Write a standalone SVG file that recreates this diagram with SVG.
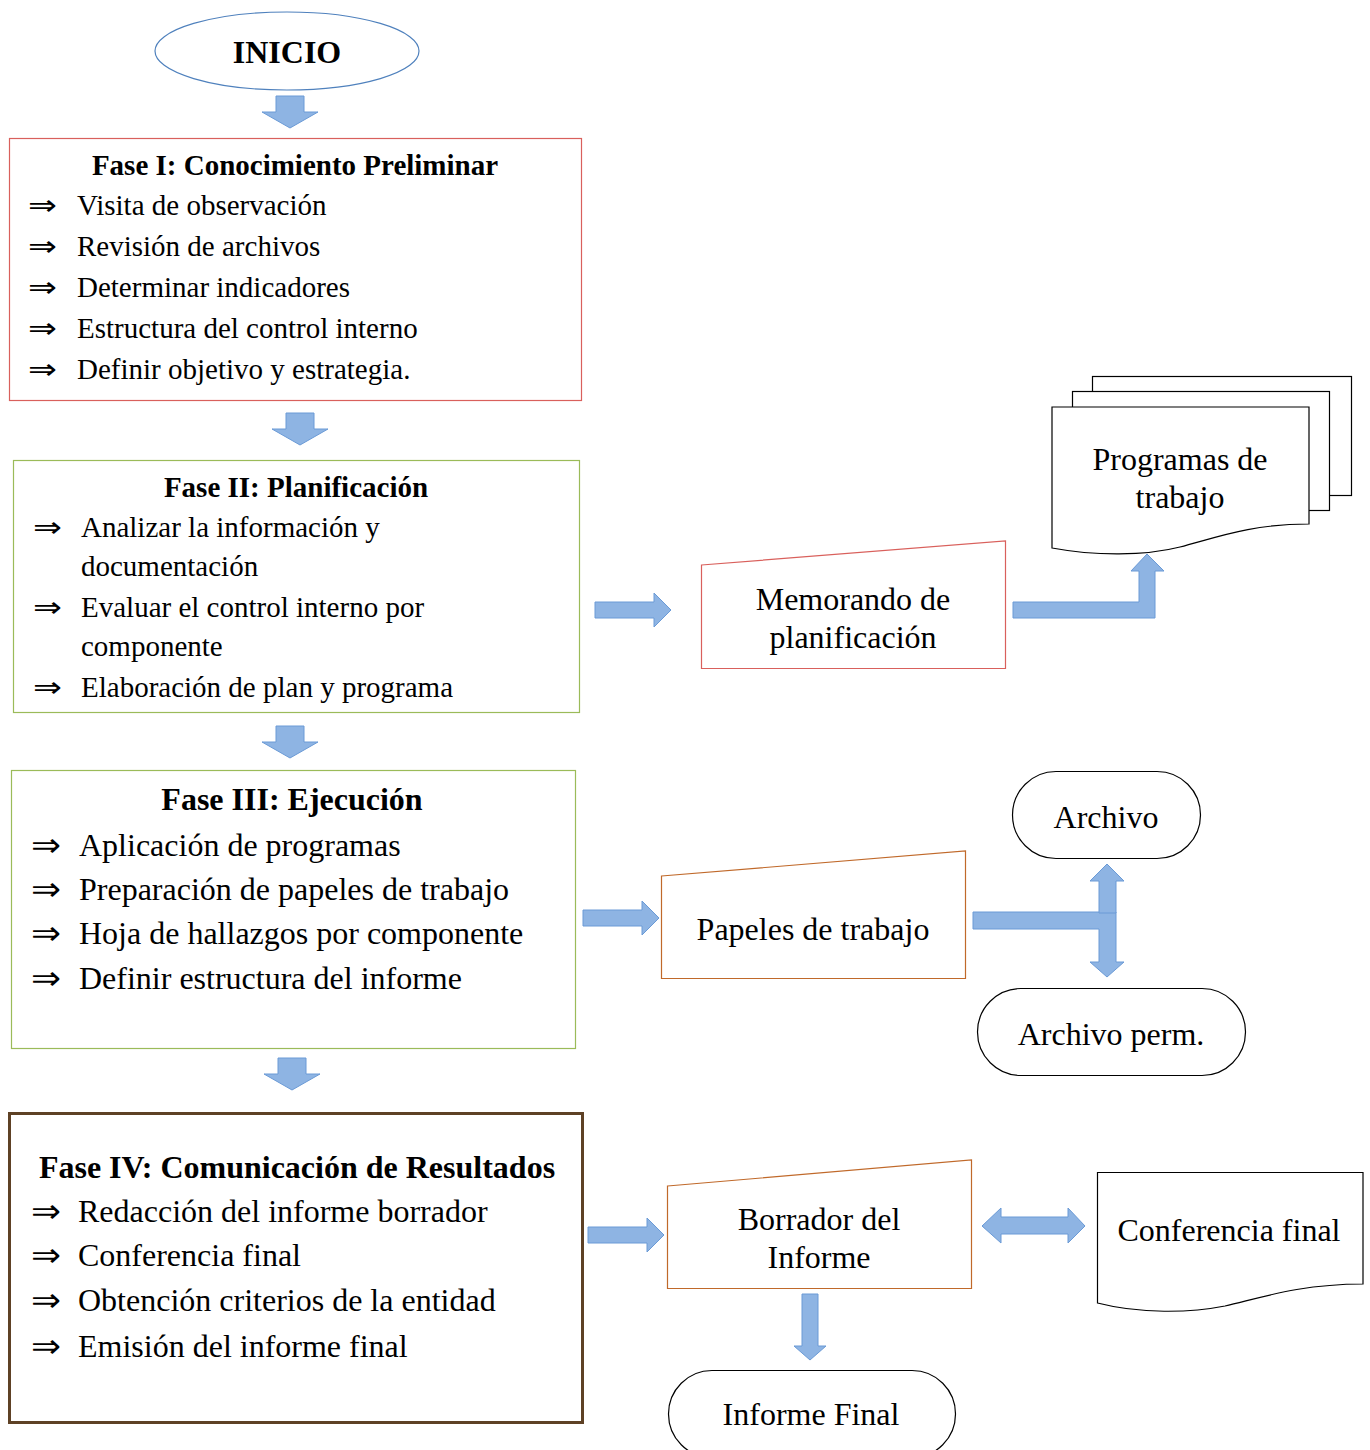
<svg xmlns="http://www.w3.org/2000/svg" width="1370" height="1450" viewBox="0 0 1370 1450">
<style>
text{font-family:"Liberation Serif","DejaVu Serif",serif;fill:#000}
.t29{font-size:29px}
.t32{font-size:32px}
.b{font-weight:bold}
.c{text-anchor:middle}
.sym{font-family:"DejaVu Sans","Liberation Serif",sans-serif;font-weight:normal}
.arr{fill:#8eb4e3;stroke:#6a9ad6;stroke-width:1}
.doc{fill:#fff;stroke:#000;stroke-width:1.2}
</style>
<defs>
<path id="down" d="M-14,0 H14 V16 H28 L0,32 L-28,16 H-14 Z"/>
<path id="right" d="M0,-8 H59 V-17 L76,0 L59,17 V8 H0 Z"/>
</defs>
<rect width="1370" height="1450" fill="#fff"/>

<g id="inicio">
<ellipse cx="287" cy="51" rx="132" ry="39" fill="#fff" stroke="#4f81bd" stroke-width="1.2"/>
<text class="t32 b c" x="287" y="63">INICIO</text>
</g>

<g id="fase1">
<rect x="9.5" y="138.5" width="572" height="262" fill="#fff" stroke="#d9605c" stroke-width="1.2"/>
<text class="t29 b c" x="295" y="175">Fase I: Conocimiento Preliminar</text>
<g class="t29">
<text class="sym" x="28" y="215" textLength="29" lengthAdjust="spacingAndGlyphs">⇒</text><text x="77" y="215">Visita de observación</text>
<text class="sym" x="28" y="256" textLength="29" lengthAdjust="spacingAndGlyphs">⇒</text><text x="77" y="256">Revisión de archivos</text>
<text class="sym" x="28" y="297" textLength="29" lengthAdjust="spacingAndGlyphs">⇒</text><text x="77" y="297">Determinar indicadores</text>
<text class="sym" x="28" y="338" textLength="29" lengthAdjust="spacingAndGlyphs">⇒</text><text x="77" y="338">Estructura del control interno</text>
<text class="sym" x="28" y="379" textLength="29" lengthAdjust="spacingAndGlyphs">⇒</text><text x="77" y="379">Definir objetivo y estrategia.</text>
</g>
</g>

<g id="fase2">
<rect x="13.5" y="460.5" width="566" height="252" fill="#fff" stroke="#9bbb59" stroke-width="1.2"/>
<text class="t29 b c" x="296" y="497">Fase II: Planificación</text>
<g class="t29">
<text class="sym" x="33" y="537" textLength="29" lengthAdjust="spacingAndGlyphs">⇒</text><text x="81" y="537">Analizar la información y</text>
<text x="81" y="576">documentación</text>
<text class="sym" x="33" y="617" textLength="29" lengthAdjust="spacingAndGlyphs">⇒</text><text x="81" y="617">Evaluar el control interno por</text>
<text x="81" y="656">componente</text>
<text class="sym" x="33" y="697" textLength="29" lengthAdjust="spacingAndGlyphs">⇒</text><text x="81" y="697">Elaboración de plan y programa</text>
</g>
</g>

<g id="fase3">
<rect x="11.5" y="770.5" width="564" height="278" fill="#fff" stroke="#9bbb59" stroke-width="1.2"/>
<text class="t32 b c" x="292" y="810">Fase III: Ejecución</text>
<g class="t32">
<text class="sym" x="31" y="856" textLength="30" lengthAdjust="spacingAndGlyphs">⇒</text><text x="79" y="856">Aplicación de programas</text>
<text class="sym" x="31" y="900" textLength="30" lengthAdjust="spacingAndGlyphs">⇒</text><text x="79" y="900">Preparación de papeles de trabajo</text>
<text class="sym" x="31" y="944" textLength="30" lengthAdjust="spacingAndGlyphs">⇒</text><text x="79" y="944">Hoja de hallazgos por componente</text>
<text class="sym" x="31" y="989" textLength="30" lengthAdjust="spacingAndGlyphs">⇒</text><text x="79" y="989">Definir estructura del informe</text>
</g>
</g>

<g id="fase4">
<rect x="9.5" y="1113.5" width="573" height="309" fill="#fff" stroke="#5e4125" stroke-width="3"/>
<text class="t32 b c" x="297" y="1178">Fase IV: Comunicación de Resultados</text>
<g class="t32">
<text class="sym" x="31" y="1222" textLength="30" lengthAdjust="spacingAndGlyphs">⇒</text><text x="78" y="1222">Redacción del informe borrador</text>
<text class="sym" x="31" y="1266" textLength="30" lengthAdjust="spacingAndGlyphs">⇒</text><text x="78" y="1266">Conferencia final</text>
<text class="sym" x="31" y="1311" textLength="30" lengthAdjust="spacingAndGlyphs">⇒</text><text x="78" y="1311">Obtención criterios de la entidad</text>
<text class="sym" x="31" y="1357" textLength="30" lengthAdjust="spacingAndGlyphs">⇒</text><text x="78" y="1357">Emisión del informe final</text>
</g>
</g>

<g id="memorando">
<polygon points="701.5,565 1005.5,541 1005.5,668.5 701.5,668.5" fill="#fff" stroke="#d9605c" stroke-width="1.2"/>
<text class="t32 c" x="853" y="610">Memorando de</text>
<text class="t32 c" x="853" y="648">planificación</text>
</g>

<g id="programas">
<rect class="doc" x="1092.5" y="376.5" width="259" height="119"/>
<rect class="doc" x="1072.5" y="391.5" width="257" height="119"/>
<path class="doc" d="M1052,407 H1309 V524 C1250,524 1215,538 1180,547 C1145,556 1095,556 1052,548 Z"/>
<text class="t32 c" x="1180" y="470">Programas de</text>
<text class="t32 c" x="1180" y="508">trabajo</text>
</g>

<g id="papeles">
<polygon points="661.5,876 965.5,851 965.5,978.5 661.5,978.5" fill="#fff" stroke="#c0692a" stroke-width="1.2"/>
<text class="t32 c" x="813" y="940">Papeles de trabajo</text>
</g>

<g id="archivo">
<rect x="1012.5" y="771.5" width="188" height="87" rx="43.5" ry="43.5" fill="#fff" stroke="#000" stroke-width="1.2"/>
<text class="t32 c" x="1106" y="828">Archivo</text>
</g>

<g id="archivo-perm">
<rect x="977.5" y="988.5" width="268" height="87" rx="43.5" ry="43.5" fill="#fff" stroke="#000" stroke-width="1.2"/>
<text class="t32 c" x="1111" y="1045">Archivo perm.</text>
</g>

<g id="borrador">
<polygon points="667.5,1186 971.5,1160 971.5,1288.5 667.5,1288.5" fill="#fff" stroke="#c0692a" stroke-width="1.2"/>
<text class="t32 c" x="819" y="1230">Borrador del</text>
<text class="t32 c" x="819" y="1268">Informe</text>
</g>

<g id="conferencia">
<path class="doc" d="M1097.5,1172.5 H1363 V1284 C1300,1284 1260,1298 1225,1306 C1190,1313 1140,1314 1097.5,1303 Z"/>
<text class="t32 c" x="1229" y="1241">Conferencia final</text>
</g>

<g id="informe-final">
<rect x="668.5" y="1370.5" width="287" height="87" rx="43.5" ry="43.5" fill="#fff" stroke="#000" stroke-width="1.2"/>
<text class="t32 c" x="811" y="1425">Informe Final</text>
</g>

<g id="connectors">
<use href="#down" class="arr" x="290" y="96"/>
<use href="#down" class="arr" x="300" y="413"/>
<use href="#down" class="arr" x="290" y="726"/>
<use href="#down" class="arr" x="292" y="1058"/>
<use href="#right" class="arr" x="595" y="610"/>
<use href="#right" class="arr" x="583" y="918"/>
<use href="#right" class="arr" x="588" y="1235"/>
<path class="arr" d="M1013,602 H1139 V571 H1131 L1147,554 L1164,571 H1155 V618 H1013 Z"/>
<path class="arr" d="M973,912 H1116 V962 H1124 L1107,977 L1090,962 H1099 V929 H973 Z"/>
<path class="arr" d="M1099,913 V881 H1090 L1107,864 L1124,881 H1116 V913 Z"/>
<path class="arr" d="M982,1226 L1001,1208 V1217 H1068 V1208 L1085,1226 L1068,1243 V1234 H1001 V1243 Z"/>
<path class="arr" d="M802,1294 H818 V1346 H826 L810,1360 L794,1346 H802 Z"/>
</g>
</svg>
